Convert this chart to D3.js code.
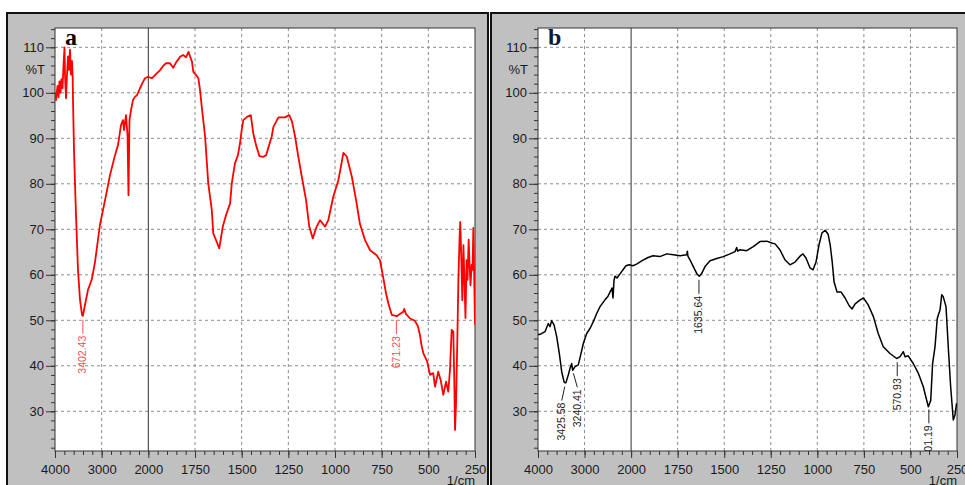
<!DOCTYPE html>
<html>
<head>
<meta charset="utf-8">
<script src="https://cdn.jsdelivr.net/npm/d3@7"></script>
<style>
  body { margin: 0; background: #fff; }
  svg { display: block; font-family: "Liberation Sans", Arial, sans-serif; }
</style>
</head>
<body>
<svg id="chart" width="965" height="485"></svg>
<script>
/*
 *  Tick values (the wavenumber axis is split: 4000-2000 and 2000-250
 *  share the same pixel spacing per labelled tick)
 */
const xTicks = [4000, 3000, 2000, 1750, 1500, 1250, 1000, 750, 500, 250];
const yTicks = [110, 100, 90, 80, 70, 60, 50, 40, 30];

/*
 *  Spectrum a (red), wavenumber in 1/cm and transmittance in %T
 */
const spectrumAWave = [4000, 3979, 3946, 3925, 3904, 3882, 3861, 3839, 3818, 3796, 3786, 3764,
    3743, 3721, 3700, 3679, 3657, 3636, 3620, 3614, 3593, 3550, 3507, 3464, 3421, 3402, 3357,
    3293, 3214, 3143, 3036, 2928, 2821, 2714, 2650, 2586, 2543, 2521, 2479, 2446, 2425, 2404,
    2371, 2329, 2286, 2243, 2179, 2114, 2071, 2007, 1980, 1959, 1937, 1921, 1905, 1884, 1867,
    1851, 1830, 1814, 1798, 1785, 1777, 1766, 1759, 1744, 1732, 1723, 1714, 1696, 1679, 1660,
    1652, 1637, 1620, 1601, 1584, 1562, 1553, 1536, 1520, 1509, 1500, 1491, 1471, 1451, 1438,
    1423, 1405, 1386, 1369, 1353, 1339, 1330, 1303, 1268, 1245, 1230, 1214, 1198, 1178, 1155,
    1138, 1119, 1098, 1080, 1053, 1036, 1009, 982, 967, 955, 937, 910, 887, 867, 839, 812, 777,
    759, 741, 727, 714, 696, 669, 652, 634, 629, 620, 598, 572, 556, 545, 537, 527, 506, 491,
    474, 464, 447, 434, 420, 405, 393, 384, 375, 366, 361, 357, 352, 345, 339, 333, 329, 323,
    318, 312, 306, 301, 295, 290, 284, 279, 274, 268, 263, 259, 255, 250];
const spectrumAT = [100, 98.4, 101.5, 99, 102.5, 100, 103, 101, 106, 110, 104, 98.8,
    104, 108, 105, 109.5, 104, 107, 103, 98.4, 87.4, 73.1, 61, 54.5, 51.2, 51, 53.4,
    56.7, 58.9, 62.8, 71, 76.4, 81.9, 86.3, 88.5, 92.9, 94, 91.8, 95.1, 90.7, 77.5, 94,
    96.2, 98.4, 99.1, 99.5, 101, 102.4, 103.2, 103.5, 103.2, 104.1, 105, 105.9, 106.5, 106.5, 105.5,
    106.7, 107.9, 108.3, 107.8, 109, 108.1, 106.8, 104.6, 103.9, 103.2, 100.6, 97, 90.4, 80.1, 74.2,
    69.1, 67.6, 65.8, 70.6, 73.1, 75.7, 80.1, 84.5, 86.3, 88.9, 91.8, 94, 94.7, 95.1, 91.1,
    88.5, 86.1, 85.9, 86.3, 88.5, 90.4, 92.5, 94.6, 94.6, 95.1, 93.6, 90.4, 86.3, 81.6, 76.4,
    70.6, 68, 70.6, 72, 70.6, 72, 77.2, 80.8, 84.1, 86.8, 86, 81.6, 76.4, 71.3, 67.6, 65.4, 64.3,
    63.2, 59.2, 56, 53.7, 51.2, 50.9, 51.4, 51.9, 52.5, 51.4, 50.4, 49.9, 48.7, 46.8, 44.6, 42.8, 40.9, 38,
    38.4, 35.4, 38.7, 36.9, 33.6, 36.5, 34.3, 39.1, 47.9, 47.5, 36.9, 25.9, 31, 45, 58.9, 67.7, 71.6, 63.2,
    54.4, 66.5, 57.7, 50.5, 63.2, 58.9, 67.7, 62.2, 57.7, 62.2, 61.1, 70.3, 61.1, 49];

/*
 *  Spectrum b (black)
 */
const spectrumBWave = [4000, 3936, 3850, 3779, 3742, 3706, 3656, 3598, 3542, 3491, 3441, 3426,
    3399, 3349, 3313, 3276, 3255, 3205, 3134, 3083, 3027, 2954, 2883, 2812, 2739, 2668, 2561,
    2496, 2453, 2410, 2389, 2367, 2346, 2303, 2238, 2174, 2110, 2045, 1990, 1968, 1941, 1909,
    1882, 1845, 1809, 1773, 1737, 1701, 1698, 1695, 1684, 1666, 1648, 1634, 1621, 1603, 1576,
    1540, 1505, 1469, 1442, 1433, 1428, 1415, 1379, 1344, 1308, 1272, 1245, 1227, 1201, 1174,
    1147, 1120, 1093, 1077, 1061, 1039, 1023, 1007, 991, 975, 958, 942, 931, 920, 910, 894,
    872, 851, 829, 813, 797, 770, 752, 727, 699, 673, 646, 610, 574, 556, 538, 529, 512, 485,
    458, 431, 404, 391, 381, 368, 356, 341, 332, 324, 309, 297, 284, 270, 261, 252];
const spectrumBT = [46.8, 47, 47.5, 49.3, 48.6, 49.9, 49, 46.4, 42.7, 38.7, 36.5, 36.3,
    36.3, 38, 39.4, 40.5, 39, 39.8, 40.2, 42.4, 44.9, 47.1, 48.2, 49.7, 51.5, 53, 54.5,
    55.3, 56.2, 57.1, 54.9, 58.8, 59.7, 59.3, 60.2, 61.1, 62, 62.2, 62, 62.4, 63.1, 63.8,
    64.2, 64, 64.6, 64.4, 64.2, 64.4, 65.2, 64.1, 63.3, 61.8, 60.3, 59.7, 60.3, 61.8, 63.1,
    63.6, 64, 64.6, 65.1, 66, 65.2, 65.5, 65.3, 66.2, 67.3, 67.4, 67, 66.8, 65.5, 63.3,
    62.2, 62.8, 64.1, 64.6, 63.7, 61.5, 61.1, 62.8, 66.6, 69.2, 69.8, 68.9, 66.6, 62.8, 58.4, 56.2,
    56.2, 54.9, 53.2, 52.5, 53.6, 54.5, 54.9, 53.4, 50.8, 47.1, 44.2, 42.7, 41.6, 42, 43.1, 42, 42.2, 40.5,
    38.4, 35.4, 31, 32.4, 40.5, 44.2, 50.4, 52.3, 55.6, 55.2, 53, 44.2, 35.4, 28.1, 29.2, 31.8];

/*
 *  Peak annotations
 */
const peaksAWave = [3402.43, 671.23];
const peaksBWave = [3425.58, 3240.41, 1635.64, 570.93, 401.19];

const svg = d3.select('#chart');
const plotTop = 28;
const plotBottom = 451;

// the two close labels near 3400 are pushed apart a little
const labelShift = { 3425.58: -3, 3240.41: 4 };

// transmittance at a given wavenumber, linear between the read points
function valueAt(waves, values, w) {
    for (let i = 0; i < waves.length - 1; i++) {
        if (waves[i] >= w && waves[i + 1] <= w) {
            let t = (waves[i] - w) / (waves[i] - waves[i + 1]);
            return values[i] + t * (values[i + 1] - values[i]);
        }
    }
    return values[values.length - 1];
}

function drawPanel(opts) {
    let g = svg.append('g');
    let left = opts.left;
    let right = opts.left + opts.width;

    // grey frame
    g.append('rect')
        .attr('x', opts.frameX).attr('y', 13)
        .attr('width', opts.frameW).attr('height', 490)
        .attr('fill', '#c0c0c0')
        .attr('stroke', '#111').attr('stroke-width', 2);

    let x = d3.scaleLinear()
        .domain([4000, 2000, 250])
        .range([left, left + opts.width * 2 / 9, right]);
    let y = d3.scaleLinear()
        .domain([30, 110])
        .range([411.3, 47.3]);

    g.append('rect')
        .attr('x', left).attr('y', plotTop)
        .attr('width', opts.width).attr('height', plotBottom - plotTop)
        .attr('fill', '#fff');

    // dashed grid
    g.selectAll('.hgrid').data(yTicks).enter().append('line')
        .attr('x1', left).attr('x2', right)
        .attr('y1', d => y(d)).attr('y2', d => y(d))
        .attr('stroke', '#8c8c8c').attr('stroke-dasharray', '3,3');
    g.selectAll('.vgrid').data(xTicks.filter(d => d !== 4000 && d !== 250 && d !== 2000)).enter().append('line')
        .attr('x1', d => x(d)).attr('x2', d => x(d))
        .attr('y1', plotTop).attr('y2', plotBottom)
        .attr('stroke', '#8c8c8c').attr('stroke-dasharray', '3,3');
    g.append('line')
        .attr('x1', x(2000)).attr('x2', x(2000))
        .attr('y1', plotTop).attr('y2', plotBottom)
        .attr('stroke', '#333').attr('stroke-width', 1);

    // axes
    let yMinor = d3.range(22, 115, 2);
    let xMinor = d3.range(4000, 2000, -200).concat(d3.range(2000, 249, -50));

    g.append('g')
        .attr('transform', 'translate(' + left + ',0)')
        .call(d3.axisLeft(y).tickValues(yMinor).tickSize(4).tickFormat(''))
        .call(a => a.select('.domain').remove());
    g.append('g')
        .attr('transform', 'translate(' + left + ',0)')
        .call(d3.axisLeft(y).tickValues(yTicks).tickSize(9).tickPadding(2))
        .call(a => a.select('.domain').remove());
    g.append('g')
        .attr('transform', 'translate(0,' + plotBottom + ')')
        .call(d3.axisBottom(x).tickValues(xMinor).tickSize(4).tickFormat(''))
        .call(a => a.select('.domain').remove());
    g.append('g')
        .attr('transform', 'translate(0,' + plotBottom + ')')
        .call(d3.axisBottom(x).tickValues(xTicks).tickSize(7).tickPadding(7).tickFormat(d3.format('d')))
        .call(a => a.select('.domain').remove());

    g.selectAll('.tick text')
        .attr('font-size', 13)
        .attr('font-family', '"Liberation Sans", Arial, sans-serif')
        .attr('fill', '#1a1a1a');
    g.selectAll('.tick line').attr('stroke', '#333');

    g.append('rect')
        .attr('x', left).attr('y', plotTop)
        .attr('width', opts.width).attr('height', plotBottom - plotTop)
        .attr('fill', 'none')
        .attr('stroke', '#333').attr('stroke-width', 1);

    g.append('text')
        .attr('x', left - 10).attr('y', 74)
        .attr('text-anchor', 'end')
        .attr('font-size', 13)
        .attr('fill', '#1a1a1a')
        .text('%T');
    g.append('text')
        .attr('x', right).attr('y', 484.5)
        .attr('text-anchor', 'end')
        .attr('font-size', 13)
        .attr('fill', '#1a1a1a')
        .text('1/cm');

    // spectrum
    let clipId = 'clip' + opts.name;
    g.append('clipPath').attr('id', clipId)
        .append('rect')
        .attr('x', left).attr('y', plotTop)
        .attr('width', opts.width).attr('height', plotBottom - plotTop);

    let line = d3.line()
        .x(d => x(d[0]))
        .y(d => y(d[1]));

    let inner = g.append('g').attr('clip-path', 'url(#' + clipId + ')');
    inner.append('path')
        .datum(d3.zip(opts.waves, opts.values))
        .attr('d', line)
        .attr('fill', 'none')
        .attr('stroke', opts.color)
        .attr('stroke-width', opts.lineWidth)
        .attr('stroke-linejoin', 'round');

    // peak labels, leader line then the rotated number
    opts.peaks.forEach(function (p) {
        let px = x(p);
        let py = y(valueAt(opts.waves, opts.values, p));
        let tx = px + (labelShift[p] || 0);
        inner.append('line')
            .attr('x1', px).attr('x2', tx)
            .attr('y1', py + 4).attr('y2', py + 18)
            .attr('stroke', opts.labelColor).attr('stroke-width', 1);
        inner.append('text')
            .attr('transform', 'translate(' + (tx + 3.5) + ',' + (py + 20) + ') rotate(-90)')
            .attr('text-anchor', 'end')
            .attr('font-size', 10.5)
            .attr('fill', opts.labelColor)
            .text(d3.format('.2f')(p));
    });

    g.append('text')
        .attr('x', left + 10).attr('y', 45)
        .attr('font-family', '"Liberation Serif", "Times New Roman", serif')
        .attr('font-weight', 'bold')
        .attr('font-size', 24)
        .attr('fill', opts.letterColor)
        .text(opts.name);
}

drawPanel({
    name: 'a', left: 55, width: 420, frameX: 7, frameW: 481,
    waves: spectrumAWave, values: spectrumAT, peaks: peaksAWave,
    color: '#ff0000', lineWidth: 1.8, labelColor: '#ff4d4d', letterColor: '#000'
});
drawPanel({
    name: 'b', left: 538, width: 419, frameX: 491, frameW: 490,
    waves: spectrumBWave, values: spectrumBT, peaks: peaksBWave,
    color: '#000', lineWidth: 1.5, labelColor: '#222', letterColor: '#0d1a33'
});
</script>
</body>
</html>
